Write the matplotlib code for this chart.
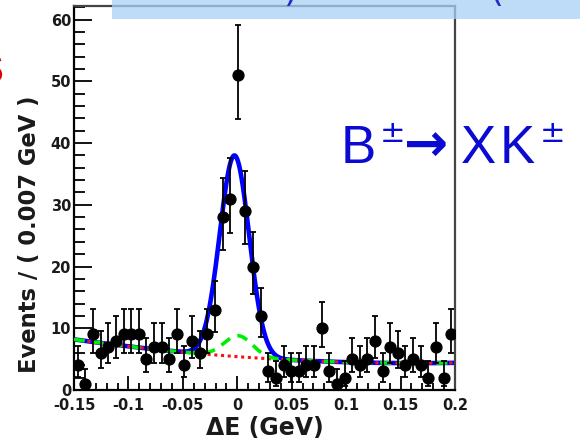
import numpy as np
import matplotlib
matplotlib.use("Agg")
import matplotlib.pyplot as plt
from matplotlib.patches import Rectangle
from matplotlib.ticker import MultipleLocator

# ---------------- data ----------------
de_lo, de_hi, n_bins = -0.15, 0.20, 50
counts = [4, 1, 9, 6, 7, 8, 9, 9, 9, 5,
          7, 7, 5, 9, 4, 8, 6, 9, 13, 28,
          31, 51, 29, 20, 12, 3, 2, 4, 3, 3,
          4, 4, 10, 3, 1, 2, 5, 4, 5, 8,
          3, 7, 6, 4, 5, 4, 2, 7, 2, 9]

# fit model parameters
bkg_coef = [5.4, -12.8, 39.0]          # quadratic combinatorial background
peak_amp, peak_mean, peak_sigma = 3.4, 0.001, 0.013    # peaking background
sig_amp, sig_mean, sig_sigma = 29.3, -0.003, 0.0135    # signal

y_max = 62.2
x_ticks = [-0.15, -0.1, -0.05, 0, 0.05, 0.1, 0.15, 0.2]
x_tick_labels = ["-0.15", "-0.1", "-0.05", "0", "0.05", "0.1", "0.15", "0.2"]
y_ticks = [0, 10, 20, 30, 40, 50, 60]

# ---------------- helpers ----------------
edges = np.linspace(de_lo, de_hi, n_bins + 1)
centers = 0.5 * (edges[:-1] + edges[1:])
n = np.asarray(counts, dtype=float)
# Poisson (Gehrels) 68% intervals
up = n + np.sqrt(n + 0.75) + 1.0
nn = np.maximum(n, 1e-9)
lo = np.where(n > 0, n * (1 - 1 / (9 * nn) - 1 / (3 * np.sqrt(nn))) ** 3, 0)
err = np.vstack([n - lo, up - n])

xs = np.linspace(de_lo, de_hi, 800)
bkg = bkg_coef[0] + bkg_coef[1] * xs + bkg_coef[2] * xs ** 2
peak = peak_amp * np.exp(-0.5 * ((xs - peak_mean) / peak_sigma) ** 2)
sig = sig_amp * np.exp(-0.5 * ((xs - sig_mean) / sig_sigma) ** 2)

# ---------------- figure ----------------
W, H = 580, 444
fig = plt.figure(figsize=(W / 100, H / 100), dpi=100)
ax = fig.add_axes([74 / W, (H - 390) / H, 381 / W, 384 / H])

ax.plot(xs, bkg + peak + sig, color="#0000ff", lw=3.3, zorder=2, solid_capstyle="round")
ax.plot(xs, bkg, color="#ff1010", lw=2.2, ls=(0, (1.0, 1.2)), zorder=3)
ax.plot(xs, bkg + peak, color="#00ee00", lw=2.6, ls=(0, (3.0, 2.2)), zorder=4)

ax.errorbar(centers, n, yerr=err, fmt="o", color="black", ms=7.8,
            elinewidth=1.3, capsize=2.2, capthick=1.3, zorder=5)

ax.set_xlim(de_lo, de_hi)
ax.set_ylim(0, y_max)

ax.xaxis.set_minor_locator(MultipleLocator(0.01))
ax.yaxis.set_minor_locator(MultipleLocator(2))
ax.set_xticks(x_ticks)
ax.set_xticklabels(x_tick_labels)
ax.set_yticks(y_ticks)

ax.tick_params(which="both", direction="in", top=False, right=False, color="black", width=1.3)
ax.tick_params(axis="x", which="major", length=10, pad=6)
ax.tick_params(axis="x", which="minor", length=5)
ax.tick_params(axis="y", which="major", length=13, pad=2)
ax.tick_params(axis="y", which="minor", length=8)
for lab in ax.get_xticklabels() + ax.get_yticklabels():
    lab.set_fontfamily("DejaVu Sans")
    lab.set_fontweight("bold")
    lab.set_fontsize(10.5)
    lab.set_color("#1a1a1a")

for s in ["left", "bottom"]:
    ax.spines[s].set_color("black")
    ax.spines[s].set_linewidth(1.6)
for s in ["top", "right"]:
    ax.spines[s].set_color("#444444")
    ax.spines[s].set_linewidth(1.6)

ax.set_xlabel("ΔE (GeV)", fontfamily="DejaVu Sans", fontweight="bold", fontsize=17, color="#1a1a1a")
ax.xaxis.set_label_coords(0.5, -(428 - 390) / 384)
ax.xaxis.label.set_va("center")
ax.set_ylabel("Events / ( 0.007 GeV )", fontfamily="DejaVu Sans", fontweight="bold", fontsize=16.3, color="#1a1a1a")
ax.yaxis.set_label_coords(-(74 - 30) / 381, (390 - 234) / 384)
ax.yaxis.label.set_va("center")

# slide banner at the top
fig.patches.append(Rectangle((112 / W, (H - 19) / H), (W - 112) / W, 19 / H,
                             transform=fig.transFigure, facecolor="#a9cff5", alpha=0.75,
                             edgecolor="none", zorder=10))
fig.text(290 / W, (H - 1) / H, ")", color="#2a2ad0", fontsize=26, ha="center", va="baseline", zorder=11)
fig.text(497 / W, (H - 1) / H, "(", color="#2a2ad0", fontsize=26, ha="center", va="baseline", zorder=11)

# partial red glyph on the left edge
fig.text(4 / W, (H - 72) / H, "S", color="#e00000", fontsize=30, fontweight="bold",
         ha="right", va="center", fontfamily="Liberation Sans")

# decay label
blue = "#0a0ad2"
lab_y = (H - 163) / H
fig.text(341 / W, lab_y, "B", color=blue, fontsize=38, fontfamily="Liberation Sans", ha="left", va="baseline")
fig.text(380 / W, (H - 142) / H, "±", color=blue, fontsize=22, fontfamily="DejaVu Sans", ha="left", va="baseline")
fig.text(404 / W, lab_y + 2 / H, "→", color=blue, fontsize=38, fontfamily="DejaVu Sans", fontweight="bold", ha="left", va="baseline")
fig.text(461 / W, lab_y, "X", color=blue, fontsize=38, fontfamily="Liberation Sans", ha="left", va="baseline")
fig.text(500 / W, lab_y, "K", color=blue, fontsize=38, fontfamily="Liberation Sans", ha="left", va="baseline")
fig.text(540 / W, (H - 142) / H, "±", color=blue, fontsize=22, fontfamily="DejaVu Sans", ha="left", va="baseline")

fig.savefig("out.png", dpi=100)
